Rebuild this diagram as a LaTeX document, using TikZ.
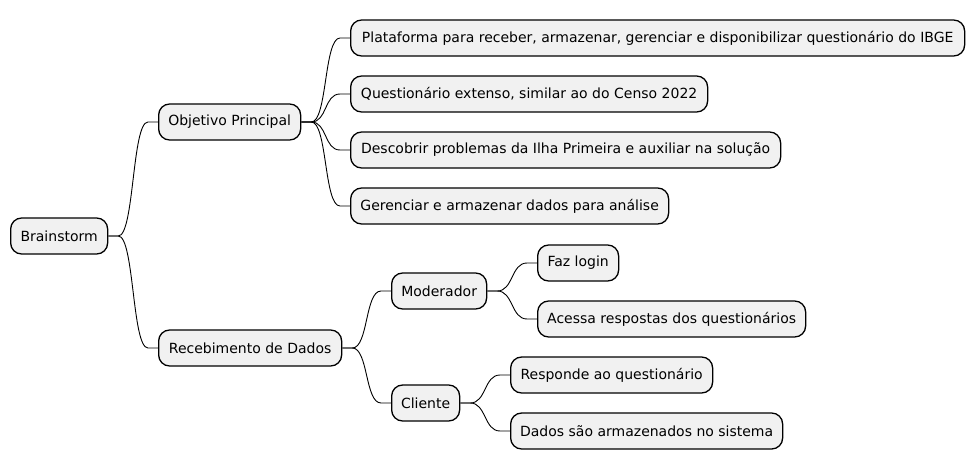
\documentclass[tikz,border=0pt]{standalone}
\usepackage{fontspec}
\setmainfont{DejaVu Sans}
\usetikzlibrary{calc}
\definecolor{nodefill}{HTML}{F1F1F1}
\tikzset{
  mmbox/.style={draw=black, fill=nodefill, line width=1.3pt, rounded corners=11pt,
    minimum height=36pt, inner sep=0pt, anchor=west,
    font=\fontsize{14}{17}\selectfont, text=black},
  conn/.style={draw=black, line width=0.9pt}
}
\newcommand{\mmconn}[2]{%
  \draw[conn] (#1.east) -- ++(10,0) .. controls +(16,0) and ($(#2.west)+(-26,0)$) .. ($(#2.west)+(-10,0)$) -- (#2.west);}
\begin{document}
\begin{tikzpicture}[x=1pt,y=-1pt]
\useasboundingbox (0,0) rectangle (974,471);
\node[mmbox, minimum width=97pt] (br) at (10,236) {Brainstorm};
\node[mmbox, minimum width=142pt] (obj) at (158,122) {Objetivo Principal};
\node[mmbox, minimum width=183pt] (rec) at (158,348) {Recebimento de Dados};
\node[mmbox, minimum width=614pt] (pla) at (350,38) {Plataforma para receber, armazenar, gerenciar e disponibilizar questionário do IBGE};
\node[mmbox, minimum width=357pt] (que) at (350,94) {Questionário extenso, similar ao do Censo 2022};
\node[mmbox, minimum width=430pt] (des) at (350,150) {Descobrir problemas da Ilha Primeira e auxiliar na solução};
\node[mmbox, minimum width=318pt] (ger) at (350,206) {Gerenciar e armazenar dados para análise};
\node[mmbox, minimum width=95pt] (mod) at (391,291) {Moderador};
\node[mmbox, minimum width=81pt] (faz) at (537,263) {Faz login};
\node[mmbox, minimum width=268pt] (ace) at (537,319) {Acessa respostas dos questionários};
\node[mmbox, minimum width=68pt] (cli) at (391,403) {Cliente};
\node[mmbox, minimum width=202pt] (res) at (510,375) {Responde ao questionário};
\node[mmbox, minimum width=272pt] (dad) at (510,431) {Dados são armazenados no sistema};
\mmconn{br}{obj}
\mmconn{br}{rec}
\mmconn{obj}{pla}
\mmconn{obj}{que}
\mmconn{obj}{des}
\mmconn{obj}{ger}
\mmconn{rec}{mod}
\mmconn{rec}{cli}
\mmconn{mod}{faz}
\mmconn{mod}{ace}
\mmconn{cli}{res}
\mmconn{cli}{dad}
\end{tikzpicture}
\end{document}
